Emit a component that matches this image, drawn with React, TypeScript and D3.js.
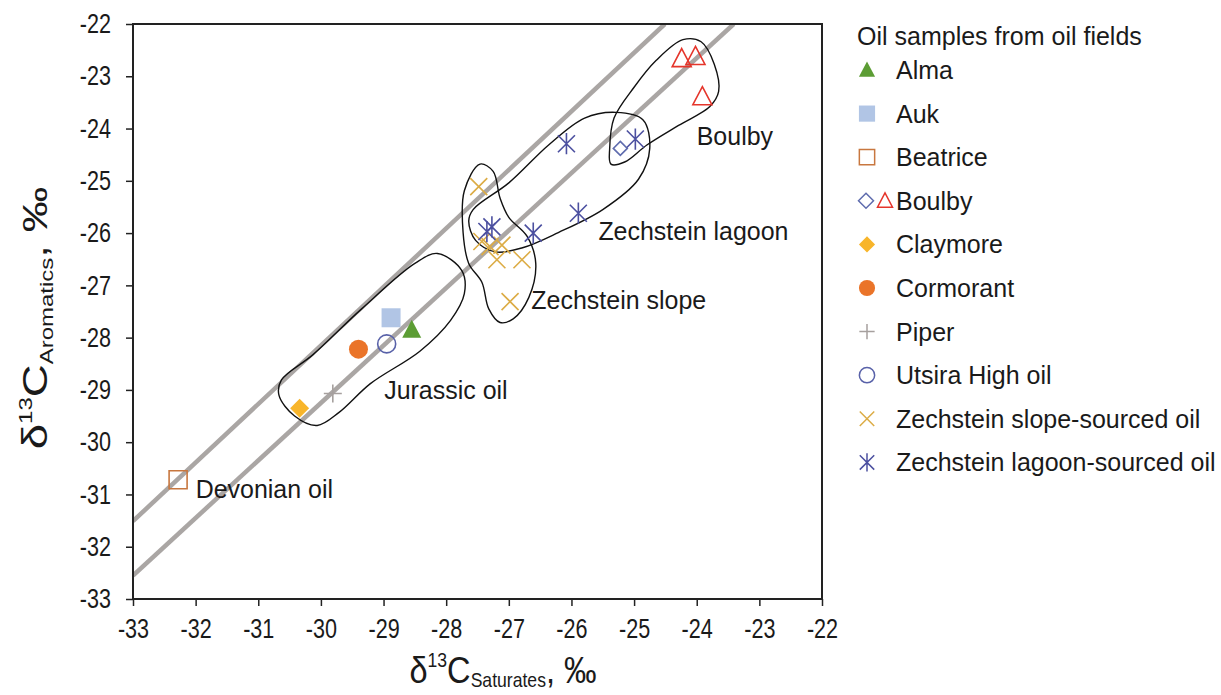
import React, { useRef, useEffect } from "react";
import * as d3 from "d3";

// axis ticks
const xTicks = d3.range(-33, -21, 1);
const yTicks = d3.range(-33, -21, 1);

// sample values [d13C saturates, d13C aromatics]
const almaPts: [number, number][] = [[-28.55, -27.85]];
const aukPts: [number, number][] = [[-28.88, -27.62]];
const beatricePts: [number, number][] = [[-32.28, -30.72]];
const boulbyDiamondPts: [number, number][] = [[-25.22, -24.38]];
const boulbyTrianglePts: [number, number][] = [
  [-24.24, -22.66],
  [-24.02, -22.62],
  [-23.91, -23.39],
];
const claymorePts: [number, number][] = [[-30.34, -29.35]];
const cormorantPts: [number, number][] = [[-29.4, -28.22]];
const piperPts: [number, number][] = [[-29.81, -29.07]];
const utsiraPts: [number, number][] = [[-28.95, -28.12]];
const slopePts: [number, number][] = [
  [-27.48, -25.11],
  [-27.43, -26.16],
  [-27.3, -26.26],
  [-27.11, -26.23],
  [-27.19, -26.51],
  [-26.79, -26.51],
  [-26.98, -27.31],
];
const lagoonPts: [number, number][] = [
  [-27.27, -25.88],
  [-27.35, -25.97],
  [-26.61, -26.0],
  [-25.89, -25.62],
  [-26.08, -24.29],
  [-24.98, -24.2],
];

// reference lines: aromatics = slope * saturates + intercept
const refLines = [
  { slope: 1.12, intercept: 5.45 },
  { slope: 1.1, intercept: 3.75 },
];

// group outlines, in data units
const jurassicOutline: [number, number][] = [
  [-30.63, -28.81], [-30.13, -28.33], [-29.35, -27.45], [-28.5, -26.58],
  [-28.14, -26.39], [-27.75, -26.72], [-27.71, -27.16], [-27.93, -27.67],
  [-28.42, -28.26], [-29.21, -28.88], [-29.71, -29.43], [-30.06, -29.68],
  [-30.42, -29.5], [-30.67, -29.1],
];
const slopeOutline: [number, number][] = [
  [-27.46, -24.68], [-27.25, -24.82], [-27.14, -25.33], [-27.0, -25.7],
  [-26.71, -26.06], [-26.57, -26.58], [-26.68, -27.23], [-26.93, -27.64],
  [-27.14, -27.71], [-27.32, -27.45], [-27.43, -26.94], [-27.64, -26.58],
  [-27.73, -25.99], [-27.71, -25.19],
];
const lagoonOutline: [number, number][] = [
  [-27.57, -25.55], [-27.0, -25.04], [-26.36, -24.31], [-25.79, -23.8],
  [-25.29, -23.69], [-24.86, -23.83], [-24.75, -24.38], [-24.93, -24.97],
  [-25.5, -25.55], [-26.21, -25.99], [-26.78, -26.28], [-27.21, -26.36],
  [-27.53, -26.14], [-27.64, -25.77],
];
const boulbyOutline: [number, number][] = [
  [-25.39, -24.38], [-25.32, -23.8], [-25.0, -23.21], [-24.65, -22.7],
  [-24.22, -22.3], [-23.93, -22.34], [-23.72, -22.77], [-23.65, -23.29],
  [-23.79, -23.58], [-24.29, -23.94], [-24.79, -24.31], [-25.15, -24.64],
  [-25.37, -24.68],
];

const groupLabels = [
  { text: "Boulby", x: -24.0, y: -24.31 },
  { text: "Zechstein lagoon", x: -25.57, y: -26.14 },
  { text: "Zechstein slope", x: -26.64, y: -27.45 },
  { text: "Jurassic oil", x: -28.99, y: -29.17 },
  { text: "Devonian oil", x: -32.0, y: -31.07 },
];

const FONT = "'Liberation Sans', Arial, sans-serif";

function markerPath(kind: string, s: number) {
  switch (kind) {
    case "triangle":
      return `M0,${-s * 1.05}L${s},${s * 0.85}L${-s},${s * 0.85}Z`;
    case "square":
      return `M${-s},${-s}h${2 * s}v${2 * s}h${-2 * s}Z`;
    case "diamond":
      return `M0,${-s}L${s},0L0,${s}L${-s},0Z`;
    case "circle":
      return `M${s},0A${s},${s} 0 1,1 ${-s},0A${s},${s} 0 1,1 ${s},0Z`;
    case "plus":
      return `M${-s},0H${s}M0,${-s}V${s}`;
    case "cross":
      return `M${-s},${-s}L${s},${s}M${s},${-s}L${-s},${s}`;
    case "asterisk":
      return `M${-s},${-s}L${s},${s}M${s},${-s}L${-s},${s}M0,${-s * 1.25}V${s * 1.25}`;
    default:
      return "";
  }
}

const series = [
  { name: "Alma", pts: almaPts, kind: "triangle", fill: "#5c9d34", stroke: "none", size: 9.5 },
  { name: "Auk", pts: aukPts, kind: "square", fill: "#b1c5e5", stroke: "none", size: 9.5 },
  { name: "Beatrice", pts: beatricePts, kind: "square", fill: "none", stroke: "#c8773f", size: 9 },
  { name: "BoulbyD", pts: boulbyDiamondPts, kind: "diamond", fill: "none", stroke: "#5f6cae", size: 7 },
  { name: "BoulbyT", pts: boulbyTrianglePts, kind: "triangle", fill: "none", stroke: "#e5352b", size: 9.5 },
  { name: "Claymore", pts: claymorePts, kind: "diamond", fill: "#f8b52a", stroke: "none", size: 9.5 },
  { name: "Cormorant", pts: cormorantPts, kind: "circle", fill: "#ea7429", stroke: "none", size: 9.5 },
  { name: "Piper", pts: piperPts, kind: "plus", fill: "none", stroke: "#a6a09e", size: 9 },
  { name: "Utsira", pts: utsiraPts, kind: "circle", fill: "none", stroke: "#5962a9", size: 9 },
  { name: "Slope", pts: slopePts, kind: "cross", fill: "none", stroke: "#dcac45", size: 8.5 },
  { name: "Lagoon", pts: lagoonPts, kind: "asterisk", fill: "none", stroke: "#4c50a0", size: 8.5 },
];

const legendItems = [
  { label: "Alma", marks: ["Alma"] },
  { label: "Auk", marks: ["Auk"] },
  { label: "Beatrice", marks: ["Beatrice"] },
  { label: "Boulby", marks: ["BoulbyD", "BoulbyT"] },
  { label: "Claymore", marks: ["Claymore"] },
  { label: "Cormorant", marks: ["Cormorant"] },
  { label: "Piper", marks: ["Piper"] },
  { label: "Utsira High oil", marks: ["Utsira"] },
  { label: "Zechstein slope-sourced oil", marks: ["Slope"] },
  { label: "Zechstein lagoon-sourced oil", marks: ["Lagoon"] },
];

// narrow the glyphs of plain text elements (the figure's type is condensed)
function squeeze(sel: d3.Selection<any, any, any, any>, k: number) {
  sel.each(function () {
    const node = this as SVGTextElement;
    const w = node.getComputedTextLength();
    d3.select(node).attr("textLength", w * k).attr("lengthAdjust", "spacingAndGlyphs");
  });
}

const App = () => {
  const ref = useRef<SVGSVGElement>(null);

  useEffect(() => {
    const width = 1221;
    const height = 695;
    const margin = { left: 133, right: 399, top: 24, bottom: 96 };

    const svg = d3.select(ref.current);
    svg.selectAll("*").remove();

    const x = d3.scaleLinear().domain([-33, -22]).range([margin.left, width - margin.right]);
    const y = d3.scaleLinear().domain([-33, -22]).range([height - margin.bottom, margin.top]);

    svg.append("defs")
      .append("clipPath")
      .attr("id", "plotclip")
      .append("rect")
      .attr("x", x(-33))
      .attr("y", y(-22))
      .attr("width", x(-22) - x(-33))
      .attr("height", y(-33) - y(-22));

    // gray reference lines
    svg.append("g")
      .attr("clip-path", "url(#plotclip)")
      .selectAll("line")
      .data(refLines)
      .enter()
      .append("line")
      .attr("x1", x(-33))
      .attr("y1", (d) => y(d.slope * -33 + d.intercept))
      .attr("x2", (d) => x((-22 - d.intercept) / d.slope))
      .attr("y2", y(-22))
      .attr("stroke", "#aaa6a4")
      .attr("stroke-width", 4.5);

    // outlines
    const outline = d3
      .line<[number, number]>()
      .x((d) => x(d[0]))
      .y((d) => y(d[1]))
      .curve(d3.curveCatmullRomClosed.alpha(0.5));

    svg.append("g")
      .selectAll("path")
      .data([jurassicOutline, slopeOutline, lagoonOutline, boulbyOutline])
      .enter()
      .append("path")
      .attr("d", (d) => outline(d))
      .attr("fill", "none")
      .attr("stroke", "#111")
      .attr("stroke-width", 1.4);

    // markers
    series.forEach((s) => {
      svg.append("g")
        .selectAll("path")
        .data(s.pts)
        .enter()
        .append("path")
        .attr("transform", (d) => `translate(${x(d[0])},${y(d[1])})`)
        .attr("d", markerPath(s.kind, s.size))
        .attr("fill", s.fill)
        .attr("stroke", s.stroke)
        .attr("stroke-width", 1.6);
    });

    // group labels
    const gl = svg.append("g")
      .selectAll("text")
      .data(groupLabels)
      .enter()
      .append("text")
      .attr("x", (d) => x(d.x))
      .attr("y", (d) => y(d.y))
      .attr("font-family", FONT)
      .attr("font-size", 26)
      .attr("fill", "#1a1a1a")
      .text((d) => d.text);
    squeeze(gl, 0.96);

    // axes
    const xAxis = svg.append("g")
      .attr("transform", `translate(0,${y(-33)})`)
      .call(d3.axisBottom(x).tickValues(xTicks).tickSize(7).tickPadding(13).tickFormat((d) => String(d)));
    const yAxis = svg.append("g")
      .attr("transform", `translate(${x(-33)},0)`)
      .call(d3.axisLeft(y).tickValues(yTicks).tickSize(7).tickPadding(15).tickFormat((d) => String(d)));
    [xAxis, yAxis].forEach((g) => {
      g.select(".domain").remove();
      g.selectAll("line").attr("stroke", "#222").attr("stroke-width", 1.5);
      g.selectAll("text").attr("font-family", FONT).attr("font-size", 27).attr("fill", "#1a1a1a");
      squeeze(g.selectAll("text"), 0.8);
    });

    // frame
    svg.append("rect")
      .attr("x", x(-33))
      .attr("y", y(-22))
      .attr("width", x(-22) - x(-33))
      .attr("height", y(-33) - y(-22))
      .attr("fill", "none")
      .attr("stroke", "#222")
      .attr("stroke-width", 2);

    // axis titles
    const xt = svg.append("text")
      .attr("transform", `translate(503,683) scale(0.88,1)`)
      .attr("text-anchor", "middle")
      .attr("font-family", FONT)
      .attr("font-size", 37)
      .attr("fill", "#1a1a1a");
    xt.append("tspan").text("δ");
    xt.append("tspan").attr("font-size", 20).attr("dy", -16).text("13");
    xt.append("tspan").attr("dy", 16).text("C");
    xt.append("tspan").attr("font-size", 20).attr("dy", 4).text("Saturates");
    xt.append("tspan").attr("dy", -4).text(", ‰");

    const yt = svg.append("text")
      .attr("transform", `translate(47,318) rotate(-90) scale(1.2,0.92)`)
      .attr("text-anchor", "middle")
      .attr("font-family", FONT)
      .attr("font-size", 38)
      .attr("fill", "#1a1a1a");
    yt.append("tspan").text("δ");
    yt.append("tspan").attr("font-size", 20).attr("dy", -16).text("13");
    yt.append("tspan").attr("dy", 16).text("C");
    yt.append("tspan").attr("font-size", 20).attr("dy", 7).text("Aromatics");
    yt.append("tspan").attr("dy", -7).text(", ‰");

    // legend
    const lg = svg.append("g");
    lg.append("text")
      .attr("x", 857)
      .attr("y", 45)
      .attr("font-family", FONT)
      .attr("font-size", 25)
      .attr("fill", "#1a1a1a")
      .text("Oil samples from oil fields");

    const rows = lg.selectAll("g.row")
      .data(legendItems)
      .enter()
      .append("g")
      .attr("class", "row")
      .attr("transform", (d, i) => `translate(0,${70 + i * 43.6})`);

    rows.each(function (d) {
      const row = d3.select(this);
      d.marks.forEach((m, j) => {
        const s = series.find((q) => q.name === m)!;
        const mx = d.marks.length > 1 ? 866 + j * 19 : 867;
        const sz = d.marks.length > 1 ? 7.5 : s.size * 0.85;
        row.append("path")
          .attr("transform", `translate(${mx},0)`)
          .attr("d", markerPath(s.kind, sz))
          .attr("fill", s.fill)
          .attr("stroke", s.stroke)
          .attr("stroke-width", 1.5);
      });
      row.append("text")
        .attr("x", 896)
        .attr("y", 9)
        .attr("font-family", FONT)
        .attr("font-size", 25)
        .attr("fill", "#1a1a1a")
        .text(d.label);
    });
  }, []);

  return (
    <svg
      ref={ref}
      width={1221}
      height={695}
      style={{ position: "absolute", left: 0, top: 0, background: "#fff" }}
    />
  );
};

export default App;
